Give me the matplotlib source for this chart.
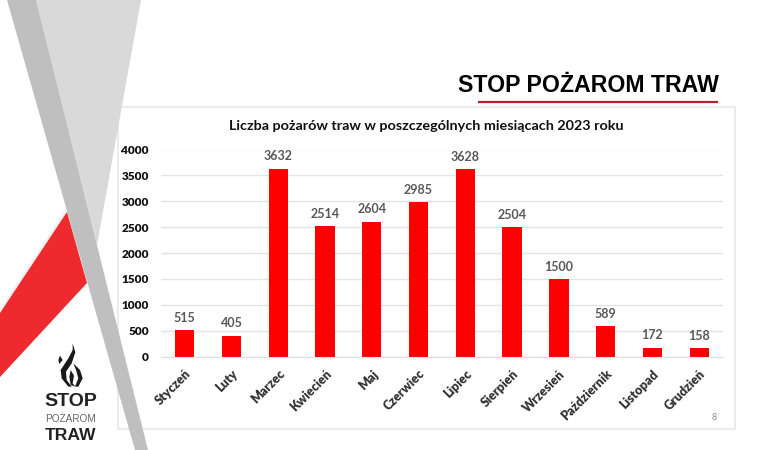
import numpy as np
import matplotlib
matplotlib.use('Agg')
import matplotlib.pyplot as plt
from matplotlib.patches import Polygon, Rectangle

plt.rcParams['font.family'] = ['Lato', 'DejaVu Sans']

months = ['Styczeń', 'Luty', 'Marzec', 'Kwiecień', 'Maj', 'Czerwiec', 'Lipiec',
          'Sierpień', 'Wrzesień', 'Październik', 'Listopad', 'Grudzień']
fires = [515, 405, 3632, 2514, 2604, 2985, 3628, 2504, 1500, 589, 172, 158]
y_ticks = [0, 500, 1000, 1500, 2000, 2500, 3000, 3500, 4000]
chart_title = 'Liczba pożarów traw w poszczególnych miesiącach 2023 roku'
slide_title = 'STOP POŻAROM TRAW'

W, H = 770, 450
fig = plt.figure(figsize=(W / 100, H / 100), dpi=100)

# background layer in pixel coords, y going down
bg = fig.add_axes([0, 0, 1, 1], zorder=0)
bg.set_xlim(0, W)
bg.set_ylim(H, 0)
bg.axis('off')
bg.add_patch(Rectangle((118, 107), 617, 322, fc='white', ec='#e8e8e8', lw=1.2))
bg.add_patch(Polygon([(36, 0), (141, 0), (97, 245)], fc='#d9d9d9', ec='none'))
# soft shadow above the red band
bg.add_patch(Polygon([(0, 309), (65, 210), (67, 212), (0, 313)], fc='#f2f2f2', ec='none'))
bg.add_patch(Polygon([(0, 313), (67, 212), (87, 283), (0, 377)], fc='#ee2a2e', ec='none'))

# chart
ax = fig.add_axes([161.3 / W, 1 - 356.5 / H, 561.3 / W, 207 / H], zorder=1)
ax.patch.set_alpha(0)
x = np.arange(len(months))
bars = ax.bar(x, fires, width=0.415, color='#ff0000', zorder=2)
ax.bar_label(bars, labels=[str(v) for v in fires], padding=4.5, fontsize=9,
             fontweight='bold', color='#595959')
ax.set_xlim(-0.5, len(months) - 0.5)
ax.set_ylim(0, 4000)
ax.set_yticks(y_ticks)
ax.set_yticklabels([str(v) for v in y_ticks], fontsize=8.5, fontweight='heavy', color='#111111')
ax.set_xticks(x)
ax.set_xticklabels(months, rotation=45, ha='right', rotation_mode='anchor',
                   fontsize=9, fontweight='heavy', color='#333333')
ax.tick_params(length=0, axis='y', pad=9)
ax.tick_params(length=0, axis='x', pad=8)
ax.grid(axis='y', color='#e4e4e4', lw=1, zorder=0)
ax.set_axisbelow(True)
for side in ['top', 'right', 'left']:
    ax.spines[side].set_visible(False)
ax.spines['bottom'].set_color('#e0e0e0')

# foreground layer: dark band, logo, titles
fg = fig.add_axes([0, 0, 1, 1], zorder=2)
fg.set_xlim(0, W)
fg.set_ylim(H, 0)
fg.axis('off')
fg.patch.set_alpha(0)
fg.add_patch(Polygon([(7, 0), (36, 0), (148, 450), (135, 450)], fc='#bfbfbf', ec='none'))

tongues = [
    [(98, 25), (106, 52), (95, 85), (78, 110), (80, 135), (95, 155), (85, 155), (65, 130),
     (62, 105), (85, 70), (98, 45)],
    [(100, 85), (120, 105), (128, 130), (115, 155), (105, 155), (115, 130), (108, 105)],
    [(60, 62), (68, 75), (58, 87), (55, 75)],
    [(92, 105), (102, 122), (98, 145), (106, 155), (92, 150), (88, 125)],
]
for t in tongues:
    fg.add_patch(Polygon([(40 + px / 3, 335 + py / 3) for px, py in t], fc='#1a1a1a', ec='none'))

fg.text(70.5, 402, 'STOP', fontsize=14, fontweight='bold', ha='center', va='center',
        color='#222222', family='Liberation Sans')
fg.text(70.5, 419.5, 'POŻAROM', fontsize=7.2, ha='center', va='center', color='#666666',
        family='Liberation Sans')
fg.text(70.5, 435, 'TRAW', fontsize=12.6, fontweight='bold', ha='center', va='center',
        color='#222222', family='Liberation Sans')

fg.text(426, 126, chart_title, fontsize=10.35, fontweight='bold', ha='center', va='center',
        color='#111111')
fg.text(588, 86, slide_title, fontsize=16.7, fontweight='bold', ha='center', va='center',
        color='#000000', family='Liberation Sans')
fg.plot([478, 718], [102, 102], color='#b8202f', lw=1.6, solid_capstyle='butt')
fg.text(714, 417, '8', fontsize=6.5, ha='center', va='center', color='#8c8c8c')

fig.savefig('out.png', dpi=100)
